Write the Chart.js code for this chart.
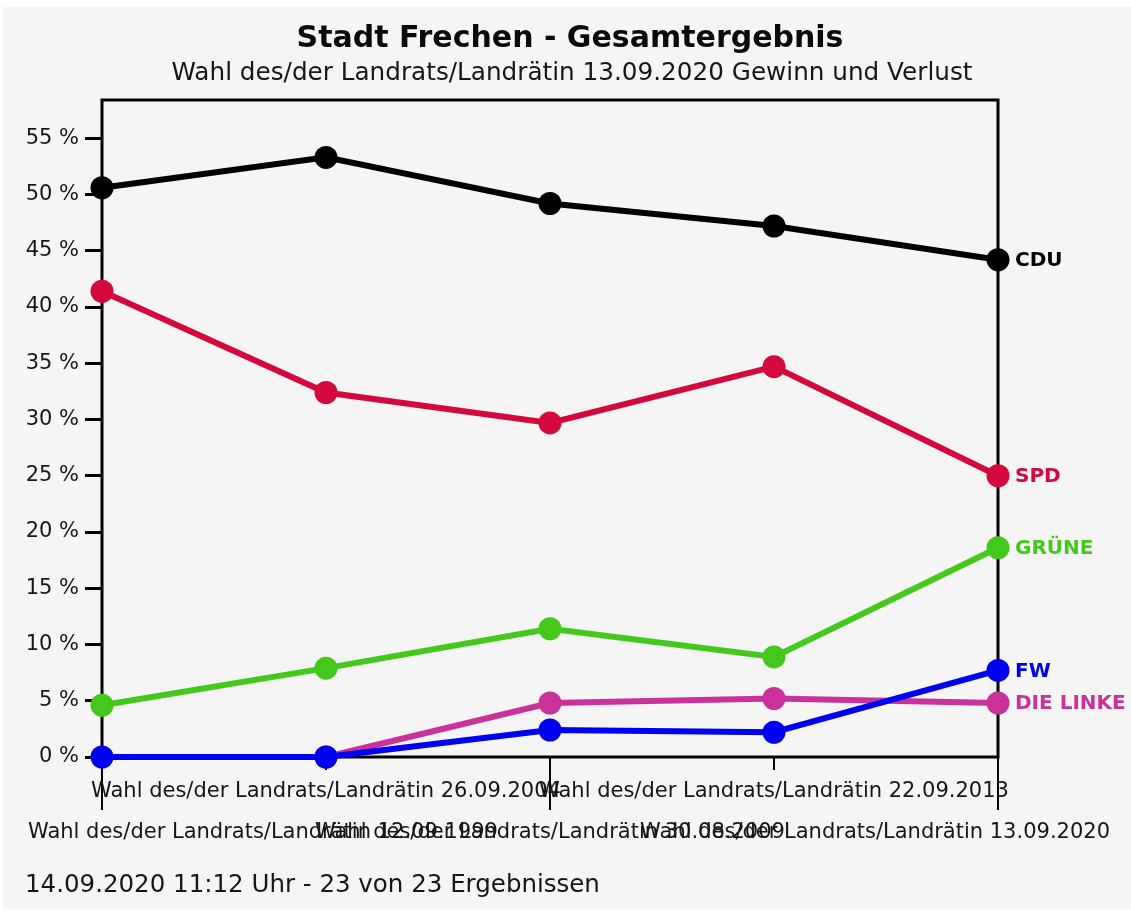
<!DOCTYPE html>
<html>
<head>
<meta charset="utf-8">
<script src="https://cdn.jsdelivr.net/npm/chart.js@4.4.1/dist/chart.umd.min.js"></script>
<style>
  html, body { margin: 0; padding: 0; background: #ffffff; }
  #wrap { width: 1131px; height: 911px; }
</style>
</head>
<body>
<div id="wrap"><canvas id="chart" width="1131" height="911"></canvas></div>
<script>
// Wahltermine (x-Achse)
const elections = [
  'Wahl des/der Landrats/Landrätin 12.09.1999',
  'Wahl des/der Landrats/Landrätin 26.09.2004',
  'Wahl des/der Landrats/Landrätin 30.08.2009',
  'Wahl des/der Landrats/Landrätin 22.09.2013',
  'Wahl des/der Landrats/Landrätin 13.09.2020'
];

// Stimmenanteile in %
const cdu = [50.6, 53.3, 49.2, 47.2, 44.2];
const spd = [41.4, 32.4, 29.7, 34.7, 25.0];
const gruene = [4.6, 7.9, 11.4, 8.9, 18.6];
const fw = [0, 0, 2.4, 2.2, 7.7];
const linke = [null, 0, 4.8, 5.2, 4.8];

const partyNames = ['CDU', 'SPD', 'GRÜNE', 'FW', 'DIE LINKE'];
const partyColors = ['#000000', '#d4083c', '#44c81c', '#0000f0', '#c8329a'];

const FONT = '"DejaVu Sans", sans-serif';
const TEXT = '#161616';

function makeDataset(i, values) {
  return {
    label: partyNames[i],
    data: values,
    borderColor: partyColors[i],
    backgroundColor: partyColors[i],
    pointBackgroundColor: partyColors[i],
    pointBorderColor: partyColors[i],
    borderWidth: 6,
    pointRadius: 11.5,
    pointBorderWidth: 0,
    tension: 0,
    clip: false
  };
}

// Hintergrund, Rahmen, Titel, Fußzeile, x-Beschriftung und Parteinamen
const decorPlugin = {
  id: 'decor',
  beforeDraw(chart) {
    const ctx = chart.ctx;
    ctx.save();
    ctx.fillStyle = '#f5f5f5';
    ctx.fillRect(3, 7, chart.width - 3, chart.height - 9);

    ctx.fillStyle = '#0a0a0a';
    ctx.textAlign = 'center';
    ctx.textBaseline = 'alphabetic';
    ctx.font = 'bold 30px ' + FONT;
    ctx.fillText('Stadt Frechen - Gesamtergebnis', 570, 47);
    ctx.font = '24.7px ' + FONT;
    ctx.fillStyle = TEXT;
    ctx.fillText('Wahl des/der Landrats/Landrätin 13.09.2020 Gewinn und Verlust', 572, 80);

    ctx.textAlign = 'left';
    ctx.font = '24.5px ' + FONT;
    ctx.fillText('14.09.2020 11:12 Uhr - 23 von 23 Ergebnissen', 25, 892);
    ctx.restore();
  },
  beforeDatasetsDraw(chart) {
    const { ctx, chartArea } = chart;
    const x = chart.scales.x;
    ctx.save();
    ctx.strokeStyle = '#000000';
    ctx.lineWidth = 3;
    ctx.strokeRect(chartArea.left, chartArea.top, chartArea.right - chartArea.left, chartArea.bottom - chartArea.top);

    // x ticks: lange Striche bei geraden, kurze bei ungeraden Positionen
    ctx.lineWidth = 2;
    elections.forEach((_, i) => {
      const px = x.getPixelForValue(i);
      ctx.beginPath();
      ctx.moveTo(px, chartArea.bottom);
      ctx.lineTo(px, chartArea.bottom + (i % 2 === 0 ? 53 : 13));
      ctx.stroke();
    });

    // x Beschriftung in zwei Zeilen
    ctx.font = '21px ' + FONT;
    ctx.fillStyle = TEXT;
    ctx.textBaseline = 'alphabetic';
    ctx.textAlign = 'left';
    elections.forEach((label, i) => {
      const px = x.getPixelForValue(i);
      const w = ctx.measureText(label).width;
      let left = px - w / 2;
      if (left < 28) left = 28;
      if (left + w > 1110) left = 1110 - w;
      const y = i % 2 === 0 ? 838 : 797;
      ctx.fillText(label, left, y);
    });
    ctx.restore();
  },
  afterDatasetsDraw(chart) {
    const ctx = chart.ctx;
    ctx.save();
    ctx.font = 'bold 20px ' + FONT;
    ctx.textAlign = 'left';
    ctx.textBaseline = 'middle';
    chart.data.datasets.forEach((ds, i) => {
      const meta = chart.getDatasetMeta(i);
      const pt = meta.data[meta.data.length - 1];
      ctx.fillStyle = partyColors[i];
      ctx.fillText(ds.label, pt.x + 17, pt.y + 1);
    });
    ctx.restore();
  }
};

new Chart(document.getElementById('chart'), {
  type: 'line',
  data: {
    labels: elections,
    datasets: [
      makeDataset(0, cdu),
      makeDataset(1, spd),
      makeDataset(2, gruene),
      makeDataset(3, fw),
      makeDataset(4, linke)
    ]
  },
  options: {
    responsive: false,
    animation: false,
    spanGaps: false,
    layout: { padding: { top: 100, right: 133, left: 0, bottom: 0 } },
    plugins: {
      legend: { display: false },
      title: { display: false },
      tooltip: { enabled: false }
    },
    scales: {
      x: {
        offset: false,
        grid: { display: false },
        border: { display: false },
        ticks: { display: false },
        afterFit(scale) { scale.height = 154; }
      },
      y: {
        min: 0,
        max: 58.4,
        grid: {
          drawOnChartArea: false,
          drawTicks: true,
          tickLength: 17,
          tickColor: '#000000',
          tickWidth: 3
        },
        border: { display: false },
        afterBuildTicks(scale) {
          scale.ticks = scale.ticks.filter(t => t.value % 5 === 0);
        },
        ticks: {
          stepSize: 5,
          padding: 6,
          color: TEXT,
          font: { family: FONT, size: 21 },
          callback: v => v + ' %'
        },
        afterFit(scale) { scale.width = 102; }
      }
    }
  },
  plugins: [decorPlugin]
});
</script>
</body>
</html>
